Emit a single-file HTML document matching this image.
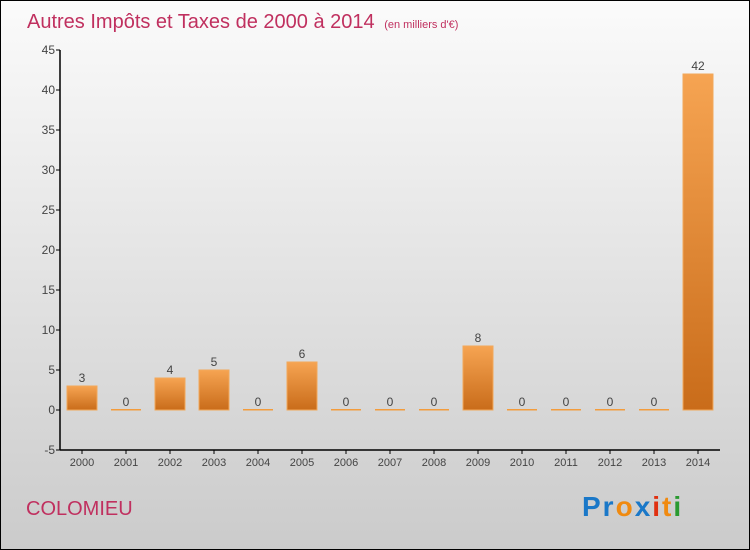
<!DOCTYPE html>
<html><head><meta charset="utf-8"><style>
body{margin:0;width:750px;height:550px;overflow:hidden}
svg{display:block;font-family:"Liberation Sans",sans-serif}
</style></head><body>
<svg width="750" height="550">
<defs>
<linearGradient id="bg" x1="0" y1="0" x2="0" y2="1"><stop offset="0" stop-color="#fbfbfb"/><stop offset="1" stop-color="#cbcbcb"/></linearGradient>
<linearGradient id="bar" x1="0" y1="0" x2="0" y2="1"><stop offset="0" stop-color="#f6a452"/><stop offset="1" stop-color="#c96c1a"/></linearGradient>
</defs>
<rect x="0.5" y="0.5" width="749" height="549" fill="url(#bg)" stroke="#000"/>
<text x="27" y="28" font-size="20" fill="#c0305f">Autres Impôts et Taxes de 2000 à 2014 <tspan font-size="11" dx="4">(en milliers d'€)</tspan></text>
<g id="axes"></g>
<g id="bars"></g>
<text x="26" y="515" font-size="20" fill="#c0305f">COLOMIEU</text>
<text x="582" y="516" font-size="28" font-weight="bold" letter-spacing="2"><tspan fill="#1a78c8">Pr</tspan><tspan fill="#f08a10">o</tspan><tspan fill="#1a78c8">x</tspan><tspan fill="#e03010">i</tspan><tspan fill="#f08a10">t</tspan><tspan fill="#2a9a30">i</tspan></text>
</svg>
<script>
const categories=["2000","2001","2002","2003","2004","2005","2006","2007","2008","2009","2010","2011","2012","2013","2014"];
const values=[3,0,4,5,0,6,0,0,0,8,0,0,0,0,42];
const yTicks=[-5,0,5,10,15,20,25,30,35,40,45];
const NS="http://www.w3.org/2000/svg";
const y=v=>410-v*8;
const x=i=>82+i*44;
function mk(tag,attrs,parent,text){const e=document.createElementNS(NS,tag);for(const k in attrs)e.setAttribute(k,attrs[k]);if(text!==undefined)e.textContent=text;parent.appendChild(e);return e;}
const ax=document.getElementById('axes'),bg=document.getElementById('bars');
let e=mk('line',{x1:60,y1:y(45),x2:60,y2:y(-5),stroke:'#000','stroke-width':1.5},ax);


e=mk('line',{x1:60,y1:y(-5),x2:720,y2:y(-5),stroke:'#000','stroke-width':1.5},ax);


yTicks.forEach(t=>{mk('line',{x1:56,y1:y(t),x2:60,y2:y(t),stroke:'#000'},ax);
const l=mk('text',{x:55,y:y(t)+4,'font-size':12,'text-anchor':'end',fill:'#444'},ax,String(t));

});
categories.forEach((c,i)=>{mk('line',{x1:x(i),y1:y(-5),x2:x(i),y2:y(-5)+4,stroke:'#000'},ax);
const l=mk('text',{x:x(i),y:y(-5)+16,'font-size':11,'text-anchor':'middle',fill:'#444'},ax,c);


const v=values[i];const h=Math.max(v*8,1.5);
const r=mk('rect',{x:x(i)-15,y:y(v)-(v?0:1),width:30,height:h,fill:v?'url(#bar)':'#f39c3c',stroke:v?'#f2a85a':'none'},bg);


const t=mk('text',{x:x(i),y:y(v)-4,'font-size':12,'text-anchor':'middle',fill:'#444'},bg,String(v));

});
</script>
</body></html>
